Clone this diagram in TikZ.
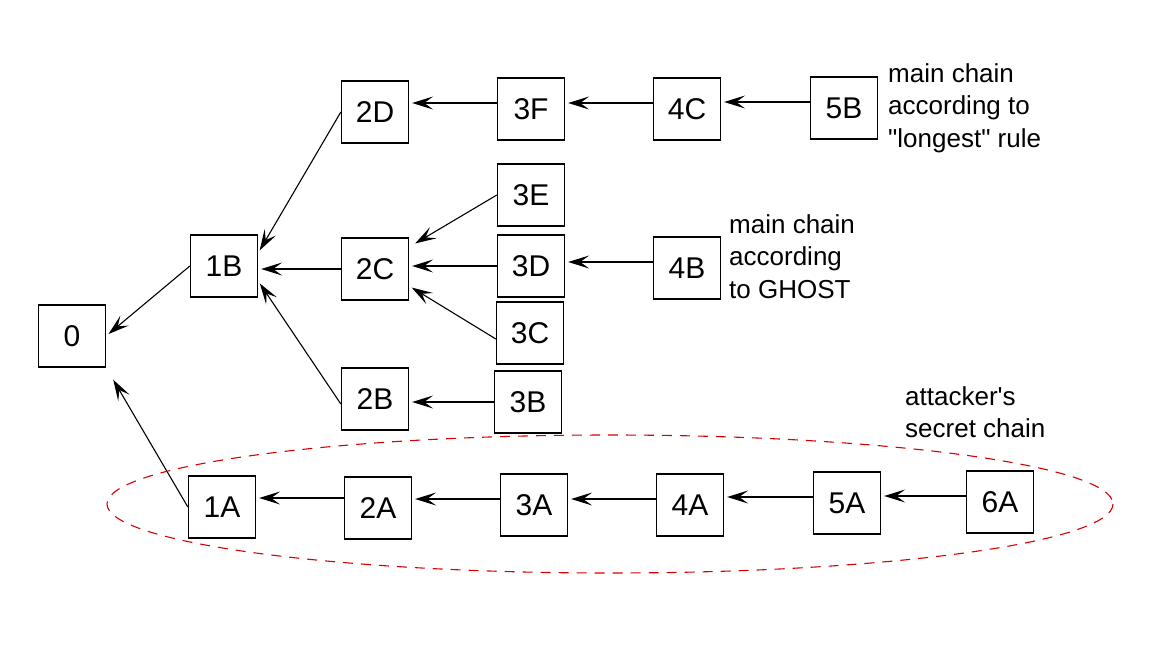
\documentclass[tikz,border=0pt]{standalone}
\usepackage{fontspec}
\newfontfamily\chainfont{Liberation Sans}
\usetikzlibrary{arrows.meta}
\begin{document}
\begin{tikzpicture}[x=1pt,y=-1pt,
		block/.style={draw,line width=1.3pt,minimum width=67pt,minimum height=62pt,inner sep=0pt,font=\chainfont\fontsize{30}{33}\selectfont},
		link/.style={-{Stealth[length=21pt,width=13pt,inset=9pt]},line width=1.1pt,shorten >=3pt},
		note/.style={anchor=north west,align=left,inner sep=0pt,font=\chainfont\fontsize{26}{32.5}\selectfont}]
		\useasboundingbox (0,0) rectangle (1153,653);
		% blocks
		\node [block] (0) at (72,336) {0};
		\node [block] (1B) at (224,266) {1B};
		\node [block] (2D) at (375,112) {2D};
		\node [block] (3F) at (531,109) {3F};
		\node [block] (4C) at (687,109) {4C};
		\node [block] (5B) at (844,108) {5B};
		\node [block] (3E) at (531,195) {3E};
		\node [block] (2C) at (375,269) {2C};
		\node [block] (3D) at (531,266) {3D};
		\node [block] (4B) at (687,268) {4B};
		\node [block] (3C) at (530,333) {3C};
		\node [block] (2B) at (375,399) {2B};
		\node [block] (3B) at (528,402) {3B};
		\node [block] (1A) at (222,507) {1A};
		\node [block] (2A) at (378,508) {2A};
		\node [block] (3A) at (534,505) {3A};
		\node [block] (4A) at (690,505) {4A};
		\node [block] (5A) at (847,503) {5A};
		\node [block] (6A) at (1000,502) {6A};
		% notes
		\node [note] (longest) at (888,63) {main chain\\according to\\"longest" rule};
		\node [note] (ghost) at (729,214) {main chain\\according\\to GHOST};
		\node [note] (secret) at (905,386) {attacker's\\secret chain};
		% links
		\draw [link] ([yshift=6pt]5B.west) -- ([yshift=6pt]5B.west -| 4C.east);
		\draw [link] ([yshift=6pt]4C.west) -- ([yshift=6pt]4C.west -| 3F.east);
		\draw [link] ([yshift=6pt]3F.west) -- ([yshift=6pt]3F.west -| 2D.east);
		\draw [link] (2D.west) -- ([yshift=13pt]1B.east);
		\draw [link] (2C.west) -- (2C.west -| 1B.east);
		\draw [link] ([yshift=-5pt]2B.west) -- ([yshift=-15pt]1B.east);
		\draw [link,shorten >=7pt] (3E.west) -- ([yshift=22pt]2C.east);
		\draw [link] (3D.west) -- (3D.west -| 2C.east);
		\draw [link] ([yshift=-6pt]3C.west) -- ([yshift=-17pt]2C.east);
		\draw [link] ([yshift=6pt]4B.west) -- ([yshift=6pt]4B.west -| 3D.east);
		\draw [link] (3B.west) -- (3B.west -| 2B.east);
		\draw [link] (1B.west) -- (0.east);
		\draw [link,shorten >=14pt] (1A.west) -- (0.south east);
		\draw [link] ([yshift=10pt]2A.west) -- ([yshift=10pt]2A.west -| 1A.east);
		\draw [link] ([yshift=6pt]3A.west) -- ([yshift=6pt]3A.west -| 2A.east);
		\draw [link] ([yshift=6pt]4A.west) -- ([yshift=6pt]4A.west -| 3A.east);
		\draw [link] ([yshift=6pt]5A.west) -- ([yshift=6pt]5A.west -| 4A.east);
		\draw [link] ([yshift=6pt]6A.west) -- ([yshift=6pt]6A.west -| 5A.east);
		% secret chain
		\draw [red!85!black,line width=1.1pt,dash pattern=on 10pt off 8pt] (610,504) ellipse [x radius=503,y radius=69];
	\end{tikzpicture}
\end{document}
